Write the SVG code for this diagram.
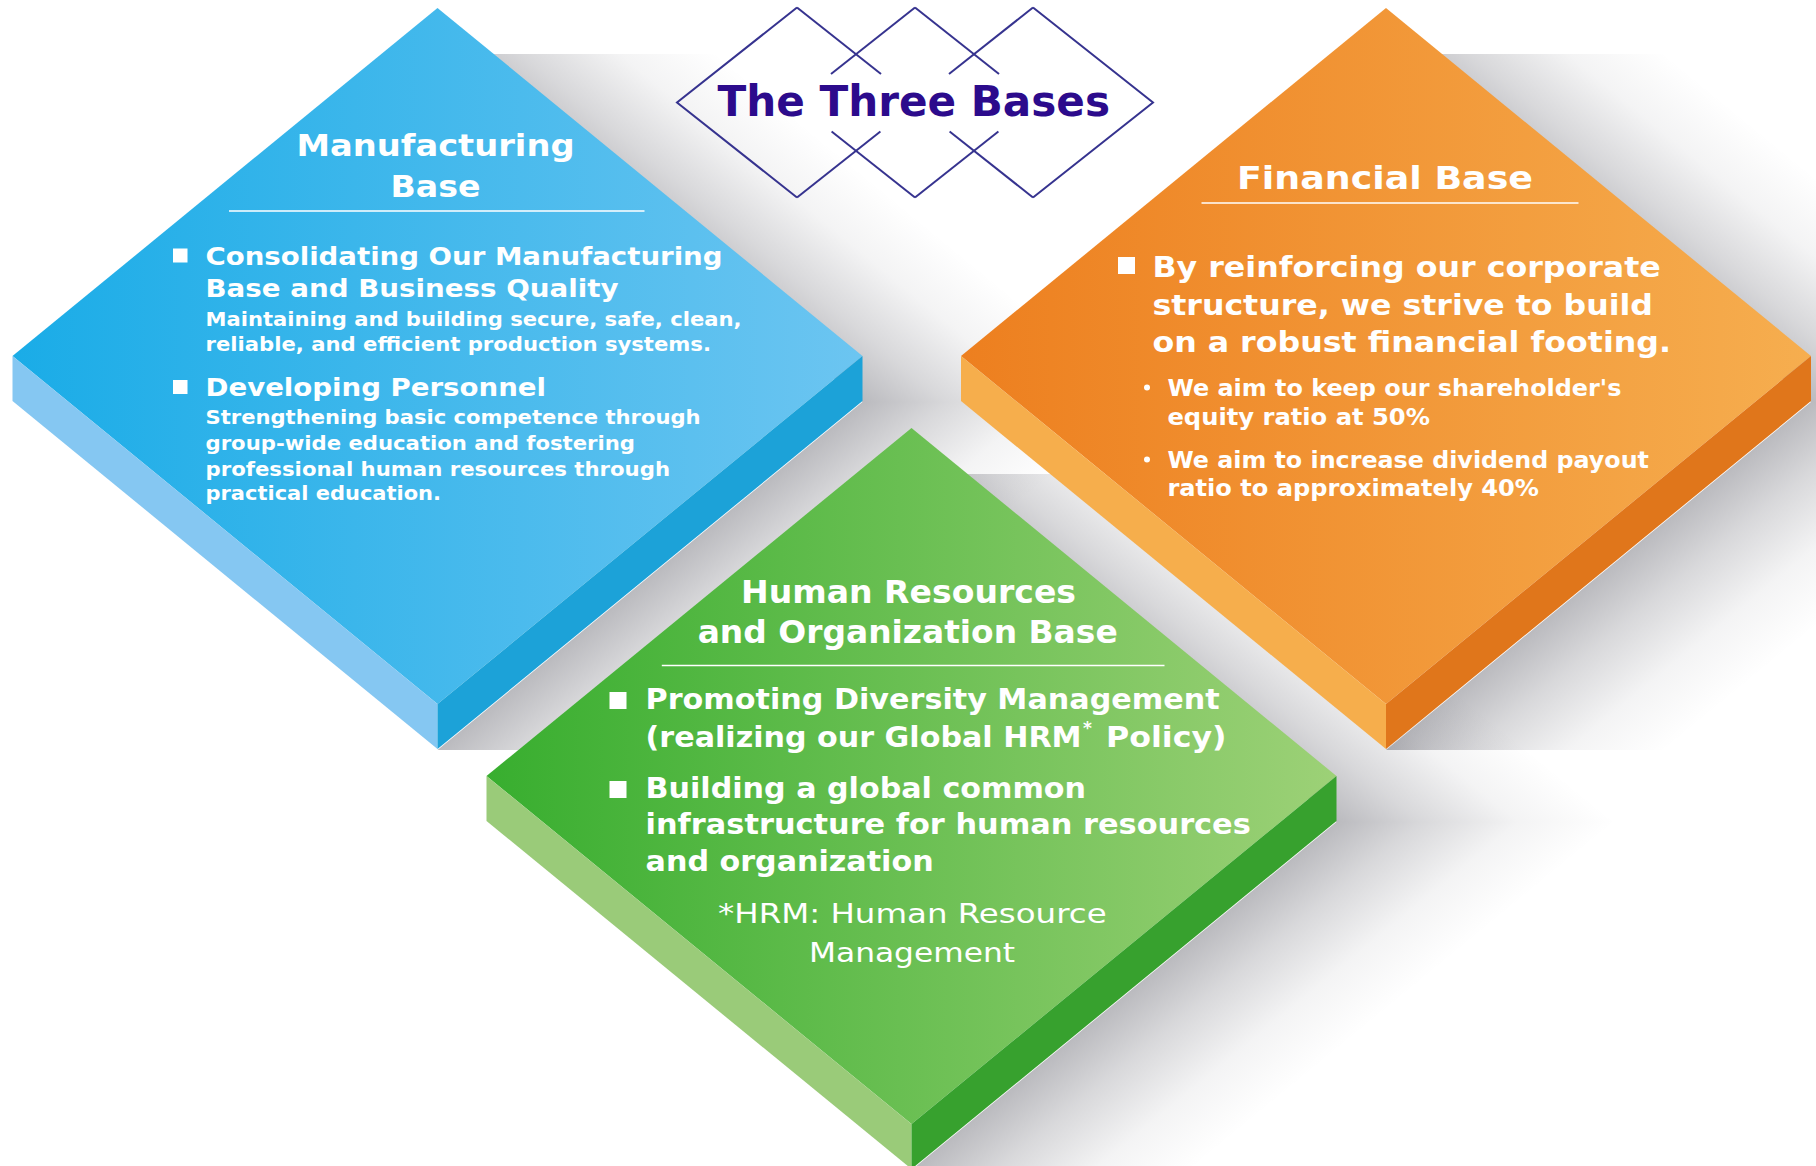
<svg xmlns="http://www.w3.org/2000/svg" xmlns:xlink="http://www.w3.org/1999/xlink" width="1816" height="1166" viewBox="0 0 1816 1166">
<defs>
  <linearGradient id="gBlue" x1="0" y1="0" x2="1" y2="0">
    <stop offset="0" stop-color="#1aace7"/>
    <stop offset="1" stop-color="#6cc5f1"/>
  </linearGradient>
  <linearGradient id="gOrange" x1="0" y1="0" x2="1" y2="0">
    <stop offset="0" stop-color="#ed7f1f"/>
    <stop offset="1" stop-color="#f6ae4f"/>
  </linearGradient>
  <linearGradient id="gGreen" x1="0" y1="0" x2="1" y2="0">
    <stop offset="0" stop-color="#38ae2f"/>
    <stop offset="1" stop-color="#9dd177"/>
  </linearGradient>
  <linearGradient id="shUp" gradientUnits="userSpaceOnUse" x1="0" y1="0" x2="112.4" y2="-137.3">
    <stop offset="0" stop-color="#1a1a28" stop-opacity="0.30"/>
    <stop offset="0.3" stop-color="#1a1a28" stop-opacity="0.17"/>
    <stop offset="0.65" stop-color="#1a1a28" stop-opacity="0.05"/>
    <stop offset="1" stop-color="#1a1a28" stop-opacity="0"/>
  </linearGradient>
  <linearGradient id="shDn" gradientUnits="userSpaceOnUse" x1="0" y1="696" x2="112.4" y2="833.3">
    <stop offset="0" stop-color="#1a1a28" stop-opacity="0.30"/>
    <stop offset="0.3" stop-color="#1a1a28" stop-opacity="0.17"/>
    <stop offset="0.65" stop-color="#1a1a28" stop-opacity="0.05"/>
    <stop offset="1" stop-color="#1a1a28" stop-opacity="0"/>
  </linearGradient>
  <g id="shadow">
    <polygon points="0,0 280,0 705,348 425,348" fill="url(#shUp)"/>
    <polygon points="425,348 705,348 280,696 0,696" fill="url(#shDn)"/>
  </g>
</defs>
<style>
  .b { font-family: "DejaVu Sans", Verdana, sans-serif; font-weight: bold; fill: #ffffff; }
  .r { font-family: "DejaVu Sans", Verdana, sans-serif; font-weight: normal; fill: #ffffff; }
  .ttl { font-family: "DejaVu Sans", Verdana, sans-serif; font-weight: bold; fill: #2c0b8c; }
  .rule { stroke: #ffffff; stroke-width: 1.6; }
  .sq { fill: #ffffff; }
  .frame { fill: none; stroke: #36338f; stroke-width: 2; }
</style>
<rect x="0" y="0" width="1816" height="1166" fill="#ffffff"/>

<g id="shadows">
  <use xlink:href="#shadow" href="#shadow" transform="translate(437.5,54)"/>
  <use xlink:href="#shadow" href="#shadow" transform="translate(1386,54)"/>
  <use xlink:href="#shadow" href="#shadow" transform="translate(911.5,474)"/>
</g>

<g id="title">
  <polyline class="frame" points="797,7.5 677,102.5 797,197.5"/>
  <polyline class="frame" points="1033,7.5 1153,102.5 1033,197.5"/>
  <line class="frame" x1="797" y1="7.5" x2="881" y2="74"/>
  <line class="frame" x1="797" y1="197.5" x2="880.4" y2="131.5"/>
  <line class="frame" x1="915" y1="7.5" x2="831" y2="74"/>
  <line class="frame" x1="915" y1="7.5" x2="999" y2="74"/>
  <line class="frame" x1="915" y1="197.5" x2="831.6" y2="131.5"/>
  <line class="frame" x1="915" y1="197.5" x2="998.4" y2="131.5"/>
  <line class="frame" x1="1033" y1="7.5" x2="949" y2="74"/>
  <line class="frame" x1="1033" y1="197.5" x2="949.6" y2="131.5"/>
  <text class="ttl" x="717.5" y="115.5" font-size="42" textLength="392.5" lengthAdjust="spacingAndGlyphs">The Three Bases</text>
</g>

<g id="manufacturing-base">
  <polygon points="437.5,8 862.5,356 437.5,704 12.5,356" fill="url(#gBlue)"/>
  <polygon points="12.5,356 437.5,704 437.5,749 12.5,401" fill="#85c7f2"/>
  <polygon points="437.5,704 862.5,356 862.5,401 437.5,749" fill="#1ca2d8"/>
  <text class="b" x="435.5" y="156" font-size="31" text-anchor="middle" textLength="278" lengthAdjust="spacingAndGlyphs">Manufacturing</text>
  <text class="b" x="435.5" y="197" font-size="31" text-anchor="middle" textLength="90" lengthAdjust="spacingAndGlyphs">Base</text>
  <line class="rule" x1="229" y1="211" x2="644.5" y2="211"/>
  <rect class="sq" x="173" y="248.5" width="14.5" height="14"/>
  <text class="b" x="205.5" y="265" font-size="24.5" textLength="517" lengthAdjust="spacingAndGlyphs">Consolidating Our Manufacturing</text>
  <text class="b" x="205.5" y="297" font-size="24.5" textLength="413" lengthAdjust="spacingAndGlyphs">Base and Business Quality</text>
  <text class="b" x="205.5" y="326" font-size="19.5" textLength="536" lengthAdjust="spacingAndGlyphs">Maintaining and building secure, safe, clean,</text>
  <text class="b" x="205.5" y="351" font-size="19.5" textLength="505.5" lengthAdjust="spacingAndGlyphs">reliable, and efficient production systems.</text>
  <rect class="sq" x="173" y="380" width="14.5" height="14"/>
  <text class="b" x="205.5" y="396" font-size="24.5" textLength="340.5" lengthAdjust="spacingAndGlyphs">Developing Personnel</text>
  <text class="b" x="205.5" y="424" font-size="19.5" textLength="495" lengthAdjust="spacingAndGlyphs">Strengthening basic competence through</text>
  <text class="b" x="205.5" y="450" font-size="19.5" textLength="429.5" lengthAdjust="spacingAndGlyphs">group-wide education and fostering</text>
  <text class="b" x="205.5" y="476" font-size="19.5" textLength="464.5" lengthAdjust="spacingAndGlyphs">professional human resources through</text>
  <text class="b" x="205.5" y="500" font-size="19.5" textLength="235.5" lengthAdjust="spacingAndGlyphs">practical education.</text>
</g>

<g id="financial-base">
  <polygon points="1386,8 1811,356 1386,704 961,356" fill="url(#gOrange)"/>
  <polygon points="961,356 1386,704 1386,749 961,401" fill="#f6ae4c"/>
  <polygon points="1386,704 1811,356 1811,401 1386,749" fill="#e0761b"/>
  <text class="b" x="1385" y="189" font-size="32" text-anchor="middle" textLength="296" lengthAdjust="spacingAndGlyphs">Financial Base</text>
  <line class="rule" x1="1201.5" y1="203" x2="1578.5" y2="203"/>
  <rect class="sq" x="1118" y="257" width="17" height="17"/>
  <text class="b" x="1152.4" y="277" font-size="28" textLength="508.4" lengthAdjust="spacingAndGlyphs">By reinforcing our corporate</text>
  <text class="b" x="1152.4" y="315" font-size="28" textLength="500.6" lengthAdjust="spacingAndGlyphs">structure, we strive to build</text>
  <text class="b" x="1152.4" y="352.4" font-size="28" textLength="518.6" lengthAdjust="spacingAndGlyphs">on a robust financial footing.</text>
  <circle cx="1147" cy="387.5" r="3" fill="#ffffff"/>
  <text class="b" x="1167.4" y="396" font-size="22.5" textLength="454" lengthAdjust="spacingAndGlyphs">We aim to keep our shareholder's</text>
  <text class="b" x="1167.4" y="424.5" font-size="22.5" textLength="262.6" lengthAdjust="spacingAndGlyphs">equity ratio at 50%</text>
  <circle cx="1147" cy="459.5" r="3" fill="#ffffff"/>
  <text class="b" x="1167.4" y="467.7" font-size="22.5" textLength="481.6" lengthAdjust="spacingAndGlyphs">We aim to increase dividend payout</text>
  <text class="b" x="1167.4" y="496" font-size="22.5" textLength="371.6" lengthAdjust="spacingAndGlyphs">ratio to approximately 40%</text>
</g>

<g id="human-resources-base">
  <polygon points="911.5,428 1336.5,776 911.5,1124 486.5,776" fill="url(#gGreen)"/>
  <polygon points="486.5,776 911.5,1124 911.5,1169 486.5,821" fill="#9acb79"/>
  <polygon points="911.5,1124 1336.5,776 1336.5,821 911.5,1169" fill="#37a12e"/>
  <text class="b" x="908.5" y="602.5" font-size="31.5" text-anchor="middle" textLength="335" lengthAdjust="spacingAndGlyphs">Human Resources</text>
  <text class="b" x="907.7" y="642.5" font-size="31.5" text-anchor="middle" textLength="420" lengthAdjust="spacingAndGlyphs">and Organization Base</text>
  <line class="rule" x1="661.8" y1="665.5" x2="1164.5" y2="665.5"/>
  <rect class="sq" x="609.5" y="692" width="17" height="17"/>
  <text class="b" x="645.6" y="709.4" font-size="27.5" textLength="574" lengthAdjust="spacingAndGlyphs">Promoting Diversity Management</text>
  <text class="b" x="645.6" y="746.6" font-size="27.5" textLength="436" lengthAdjust="spacingAndGlyphs">(realizing our Global HRM</text>
  <text class="b" x="1083" y="734" font-size="17">*</text>
  <text class="b" x="1106" y="746.6" font-size="27.5" textLength="120.5" lengthAdjust="spacingAndGlyphs">Policy)</text>
  <rect class="sq" x="609.5" y="781" width="17" height="17"/>
  <text class="b" x="645.6" y="798" font-size="27.5" textLength="440.4" lengthAdjust="spacingAndGlyphs">Building a global common</text>
  <text class="b" x="645.6" y="834" font-size="27.5" textLength="605.2" lengthAdjust="spacingAndGlyphs">infrastructure for human resources</text>
  <text class="b" x="645.6" y="871" font-size="27.5" textLength="288" lengthAdjust="spacingAndGlyphs">and organization</text>
  <text class="r" x="912.3" y="923" font-size="26" text-anchor="middle" textLength="388.6" lengthAdjust="spacingAndGlyphs">*HRM: Human Resource</text>
  <text class="r" x="912" y="962" font-size="26" text-anchor="middle" textLength="206" lengthAdjust="spacingAndGlyphs">Management</text>
</g>

<g id="connectors"/>
</svg>
